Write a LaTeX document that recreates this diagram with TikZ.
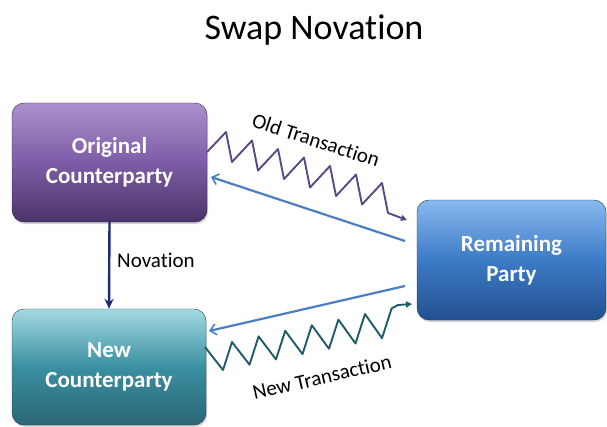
\documentclass[tikz,border=0pt]{standalone}
\usepackage{fontspec}
\setmainfont{Carlito}[Ligatures=NoCommon]
\usetikzlibrary{arrows.meta,shadows}
\definecolor{purT}{HTML}{AB90CD}
\definecolor{purM}{HTML}{7D5CA6}
\definecolor{purB}{HTML}{4A3468}
\definecolor{tealT}{HTML}{A3DAE2}
\definecolor{tealM}{HTML}{3A8FA1}
\definecolor{tealB}{HTML}{2A6676}
\definecolor{bluT}{HTML}{89B9EE}
\definecolor{bluM}{HTML}{3C7BC8}
\definecolor{bluB}{HTML}{23508E}
\definecolor{arrblue}{HTML}{4A7EC4}
\definecolor{navy}{HTML}{1C2C78}
\definecolor{zpur}{HTML}{5E4884}
\definecolor{zteal}{HTML}{1F5C66}
\begin{document}
\begin{tikzpicture}[x=1pt,y=-1pt,
  box/.style={rounded corners=12pt, inner sep=0pt, text=white,
    font=\bfseries\fontsize{23}{30}\selectfont, align=center,
    drop shadow={opacity=0.35, shadow xshift=1pt, shadow yshift=-2pt}},
  lbl/.style={font=\fontsize{21}{24}\selectfont, text=black, inner sep=0pt},
  bluarr/.style={draw=arrblue, line width=2.2pt, -{Straight Barb[length=6pt,width=11pt,line width=1.6pt]}},
  zig/.style={line width=1.9pt, line join=round, -{Triangle[length=6pt,width=6pt]}}
]
\useasboundingbox (0,0) rectangle (607,426);
\node[font=\fontsize{36}{42}\selectfont] (title) at (314,30) {Swap Novation};

\node[box, minimum width=195pt, minimum height=119pt,
  top color=purT, bottom color=purB, middle color=purM, draw=purB!70!black, line width=0.4pt]
  (orig) at (109.5,162.5) {Original\\Counterparty};
\node[box, minimum width=194pt, minimum height=116pt,
  top color=tealT, bottom color=tealB, middle color=tealM, draw=tealB!70!black, line width=0.4pt]
  (newc) at (109,367) {New\\Counterparty};
\node[box, minimum width=189pt, minimum height=120pt,
  top color=bluT, bottom color=bluB, middle color=bluM, draw=bluB!70!black, line width=0.4pt]
  (rem) at (511.5,260) {Remaining\\Party};

% Novation
\draw[draw=navy, line width=2.4pt, -{Stealth[length=10pt,width=9pt]}] (orig.south) -- (newc.north);
\node[lbl, anchor=west] (nov) at (117,260) {Novation};

% blue arrows
\coordinate (b1s) at (405,241);
\coordinate (b1e) at (211,177);
\coordinate (b2s) at (405,286);
\coordinate (b2e) at (209,331);
\draw[bluarr] (b1s) -- (b1e);
\draw[bluarr] (b2s) -- (b2e);

% old transaction zigzag
\coordinate (o0) at (207,152);
\coordinate (o1) at (407,220);
\draw[zig, draw=zpur] (o0) -- (226,132) -- (232,162) -- (252,140.5) -- (258,170.5)
  -- (278,149) -- (284,179) -- (304,157.5) -- (310,187.5) -- (330,166) -- (336,196)
  -- (356,174.5) -- (362,204.5) -- (382,183) -- (388,213) -- (o1);
\node[lbl, rotate=-18] (oldt) at (316,140) {Old Transaction};

% new transaction zigzag
\coordinate (n0) at (205,347);
\coordinate (n1) at (412,304);
\draw[zig, draw=zteal] (n0) -- (223,370) -- (232,342) -- (249.5,364.7) -- (258.6,336.4)
  -- (276,359.4) -- (285.2,330.8) -- (302.5,354.1) -- (311.8,325.2) -- (329,348.8)
  -- (338.4,319.6) -- (355.5,343.5) -- (365,314) -- (382,338.2) -- (391.6,308.4)
  -- (398,305) -- (n1);
\node[lbl, rotate=13] (newt) at (322,377) {New Transaction};
\end{tikzpicture}
\end{document}
